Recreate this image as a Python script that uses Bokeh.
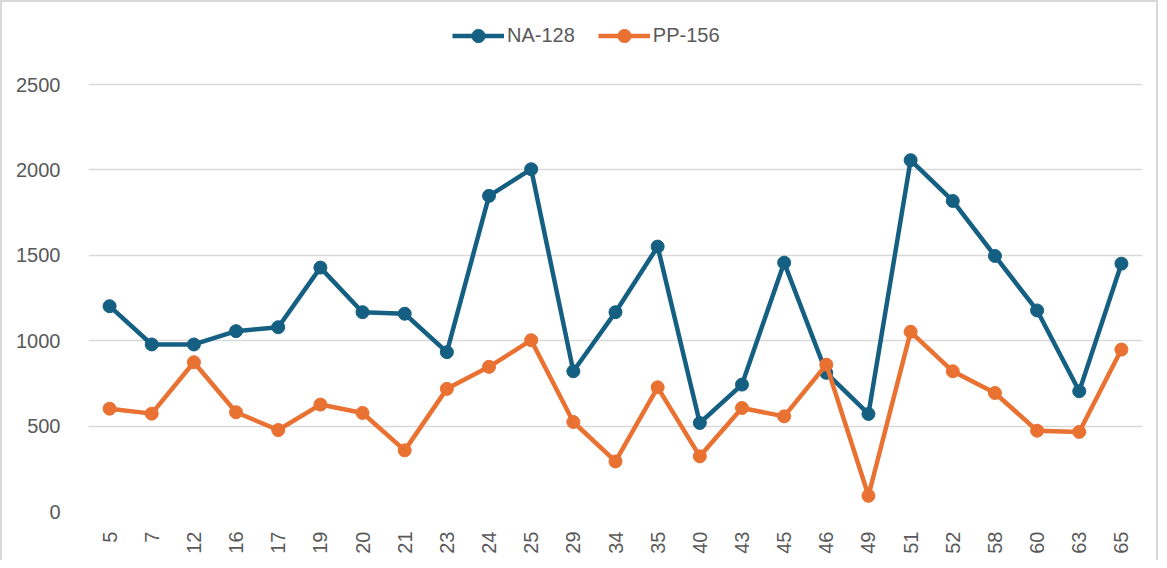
import math
from bokeh.plotting import figure
from bokeh.models import Range1d, Legend, LegendItem, ColumnDataSource, FixedTicker
from bokeh.embed import file_html
from bokeh.resources import INLINE

categories = ["5", "7", "12", "16", "17", "19", "20", "21", "23", "24", "25", "29", "34",
              "35", "40", "43", "45", "46", "49", "51", "52", "58", "60", "63", "65"]
na_128 = [1202, 978, 978, 1056, 1079, 1428, 1167, 1158, 933, 1848, 2004, 821, 1167,
          1551, 518, 743, 1457, 812, 571, 2057, 1818, 1496, 1177, 704, 1451]
pp_156 = [602, 573, 874, 581, 477, 626, 577, 358, 718, 847, 1003, 524, 293,
          727, 323, 606, 557, 860, 92, 1052, 821, 694, 473, 466, 948]
y_ticks = [0, 500, 1000, 1500, 2000, 2500]

BLUE = "#156082"
ORANGE = "#E97132"
GRID = "#d9d9d9"
TXT = "#595959"
FONT = "Liberation Sans"

src = ColumnDataSource(dict(x=categories, na=na_128, pp=pp_156))

# the frame extends above the 2500 line to leave room for the legend
p = figure(x_range=categories, y_range=Range1d(0, 2945), width=1158, height=560,
           output_backend="svg", toolbar_location=None,
           min_border_left=86, min_border_right=18, min_border_top=6, min_border_bottom=51)
p.outline_line_color = None
p.styles = {"border-top": "2px solid #d9d9d9", "border-left": "2px solid #d9d9d9",
            "border-right": "2px solid #d9d9d9", "box-sizing": "border-box"}

l1 = p.line("x", "na", source=src, line_color=BLUE, line_width=4.5)
s1 = p.scatter("x", "na", source=src, size=13, fill_color=BLUE, line_color=BLUE)
l2 = p.line("x", "pp", source=src, line_color=ORANGE, line_width=4.5)
s2 = p.scatter("x", "pp", source=src, size=13, fill_color=ORANGE, line_color=ORANGE)

p.xgrid.grid_line_color = None
p.ygrid.grid_line_color = GRID
p.ygrid.grid_line_width = 1.5
p.yaxis.ticker = FixedTicker(ticks=y_ticks)

for ax in (p.xaxis, p.yaxis):
    ax.axis_line_color = None
    ax.major_tick_line_color = None
    ax.minor_tick_line_color = None
    ax.major_label_text_font = FONT
    ax.major_label_text_font_size = "20px"
    ax.major_label_text_color = TXT
p.yaxis.major_label_standoff = 22
p.xaxis.major_label_standoff = 14
p.xaxis.major_label_orientation = math.pi / 2

legend = Legend(items=[LegendItem(label="NA-128", renderers=[l1, s1]),
                       LegendItem(label="PP-156", renderers=[l2, s2])],
                orientation="horizontal", location=(364, 459),
                label_text_font=FONT, label_text_font_size="20px", label_text_color=TXT,
                glyph_width=52, glyph_height=33, label_standoff=3, spacing=23,
                padding=0, margin=0, border_line_color=None, background_fill_alpha=0)
p.add_layout(legend, "center")

open("out.html", "w").write(file_html(p, INLINE))
